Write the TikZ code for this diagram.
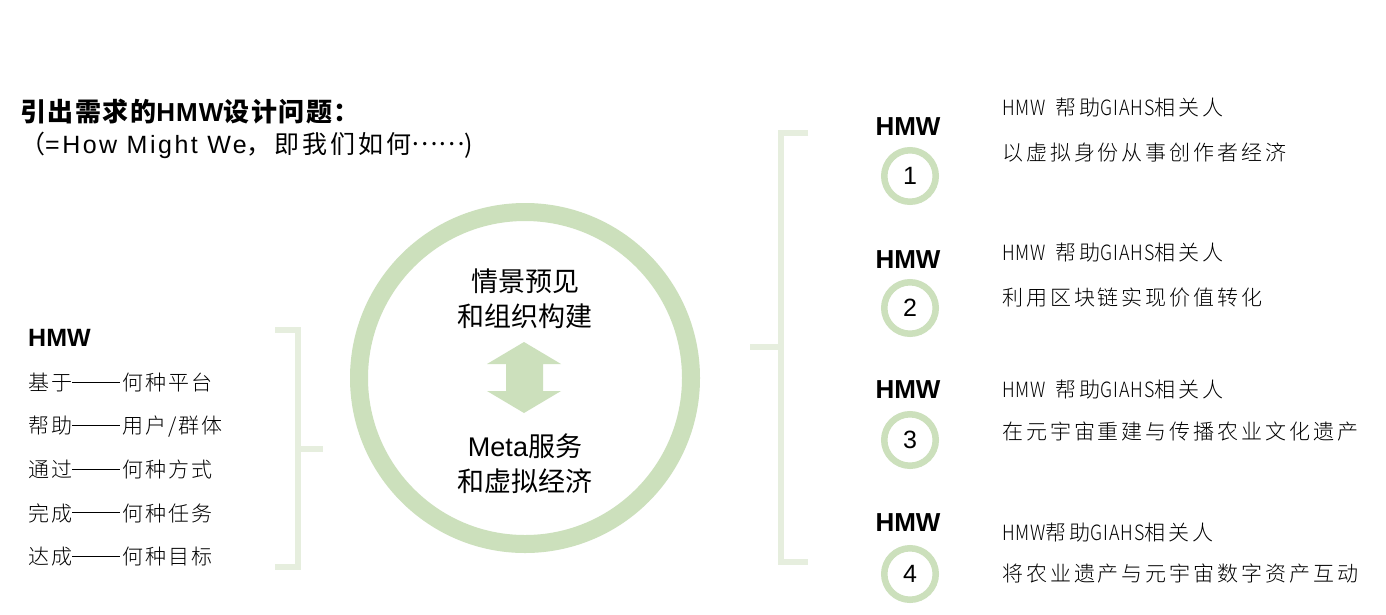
\documentclass[tikz,border=0pt]{standalone}
\usepackage{fontspec}
\setmainfont{Liberation Sans}
\newfontfamily\cjk{Noto Sans CJK SC}
\newfontfamily\cjkl{Noto Sans CJK SC Light}
\newfontfamily\narrowl{Noto Sans CJK SC Light}[FakeStretch=0.85,LetterSpace=4]
\definecolor{ring}{RGB}{204,224,188}
\definecolor{brk}{RGB}{230,238,222}
\newcommand{\rl}[1]{{\addfontfeature{LetterSpace=14}#1}}
\newcommand{\ldash}{\raisebox{0.36em}{\rule{48pt}{1.1pt}}\hspace{2pt}}
\begin{document}
\begin{tikzpicture}[x=1pt,y=-1pt,
  txt/.style={inner sep=0pt, anchor=west},
  ctxt/.style={inner sep=0pt, anchor=center, align=center},
  hmwlabel/.style={inner sep=0pt, anchor=center, font=\fontsize{26}{30}\selectfont\bfseries},
  numc/.style={circle, draw=ring, line width=6.5pt, minimum size=51.5pt, inner sep=0pt, font=\fontsize{25}{30}\selectfont},
  bigring/.style={circle, draw=ring, line width=18pt, minimum size=332pt, inner sep=0pt},
  brkline/.style={draw=brk, line width=5.5pt},
  listf/.style={font=\fontsize{21}{25}\selectfont\cjkl\addfontfeature{LetterSpace=10}},
  rtop/.style={font=\fontsize{21}{25}\selectfont},
  rbot/.style={font=\fontsize{21}{25}\selectfont\cjkl\addfontfeature{LetterSpace=14}}
]
\useasboundingbox (0,0) rectangle (1386,614);
\fill[white] (0,0) rectangle (1386,614);

% title
\node[txt, font=\fontsize{26}{30}\selectfont\bfseries\addfontfeature{LetterSpace=4}] (title) at (20,112) {{\cjk\addfontfeature{LetterSpace=6} 引出需求的}HMW{\cjk\addfontfeature{LetterSpace=6} 设计问题：}};
\node[txt, font=\fontsize{25}{30}\selectfont\addfontfeature{LetterSpace=10}] (subtitle) at (20,145) {{\cjk （}=How Might We{\cjk\addfontfeature{LetterSpace=12} ，即我们如何}{\cjk\raisebox{0.3em}{……}}{\cjk )}};

% left list
\node[txt, font=\fontsize{25}{30}\selectfont\bfseries] (lhmw) at (28,338) {HMW};
\node[txt, listf] (l1) at (28,383) {基于\ldash 何种平台};
\node[txt, listf] (l2) at (28,427) {帮助\ldash 用户/群体};
\node[txt, listf] (l3) at (28,470) {通过\ldash 何种方式};
\node[txt, listf] (l4) at (28,513) {完成\ldash 何种任务};
\node[txt, listf] (l5) at (28,557) {达成\ldash 何种目标};

% left bracket
\coordinate (lbt) at (275,330);
\coordinate (lbb) at (275,567);
\coordinate (lbm) at (323,449);
\draw[brkline] (lbt) -- (298,330) -- (298,567) -- (lbb);
\draw[brkline] (298,449) -- (lbm);

% central circle
\node[bigring] (ring) at (525,378) {};
\node[ctxt, font=\fontsize{27}{35}\selectfont\cjk] (top) at (525,299) {情景预见\\和组织构建};
\node[ctxt, font=\fontsize{27}{35}\selectfont] (bot) at (525,464) {Meta{\cjk 服务}\\{\cjk 和虚拟经济}};
\fill[ring] (524,342) -- (561,364) -- (543,364) -- (543,391) -- (561,391) -- (524,413)
  -- (487,391) -- (506,391) -- (506,364) -- (487,364) -- cycle;

% right bracket
\coordinate (rbt) at (808,133);
\coordinate (rbb) at (808,562);
\coordinate (rbm) at (750,347);
\draw[brkline] (rbt) -- (781,133) -- (781,562) -- (rbb);
\draw[brkline] (781,347) -- (rbm);

% right items
\node[hmwlabel] (h1) at (908,127) {HMW};
\node[numc] (c1) at (910,176) {1};
\node[hmwlabel] (h2) at (908,260) {HMW};
\node[numc] (c2) at (910,308) {2};
\node[hmwlabel] (h3) at (908,390) {HMW};
\node[numc] (c3) at (910,440) {3};
\node[hmwlabel] (h4) at (908,523) {HMW};
\node[numc] (c4) at (910,574) {4};

\node[txt, rtop] (t1a) at (1002,108) {{\narrowl HMW} \hspace{4pt}{\cjkl\rl{帮助}}{\narrowl GIAHS}{\cjkl\rl{相关人}}};
\node[txt, rbot] (t1b) at (1002,153) {以虚拟身份从事创作者经济};
\node[txt, rtop] (t2a) at (1002,253) {{\narrowl HMW} \hspace{4pt}{\cjkl\rl{帮助}}{\narrowl GIAHS}{\cjkl\rl{相关人}}};
\node[txt, rbot] (t2b) at (1002,298) {利用区块链实现价值转化};
\node[txt, rtop] (t3a) at (1002,390) {{\narrowl HMW} \hspace{4pt}{\cjkl\rl{帮助}}{\narrowl GIAHS}{\cjkl\rl{相关人}}};
\node[txt, rbot] (t3b) at (1002,432) {在元宇宙重建与传播农业文化遗产};
\node[txt, rtop] (t4a) at (1002,533) {{\narrowl HMW}{\cjkl\rl{帮助}}{\narrowl GIAHS}{\cjkl\rl{相关人}}};
\node[txt, rbot] (t4b) at (1002,573) {将农业遗产与元宇宙数字资产互动};
\end{tikzpicture}
\end{document}
